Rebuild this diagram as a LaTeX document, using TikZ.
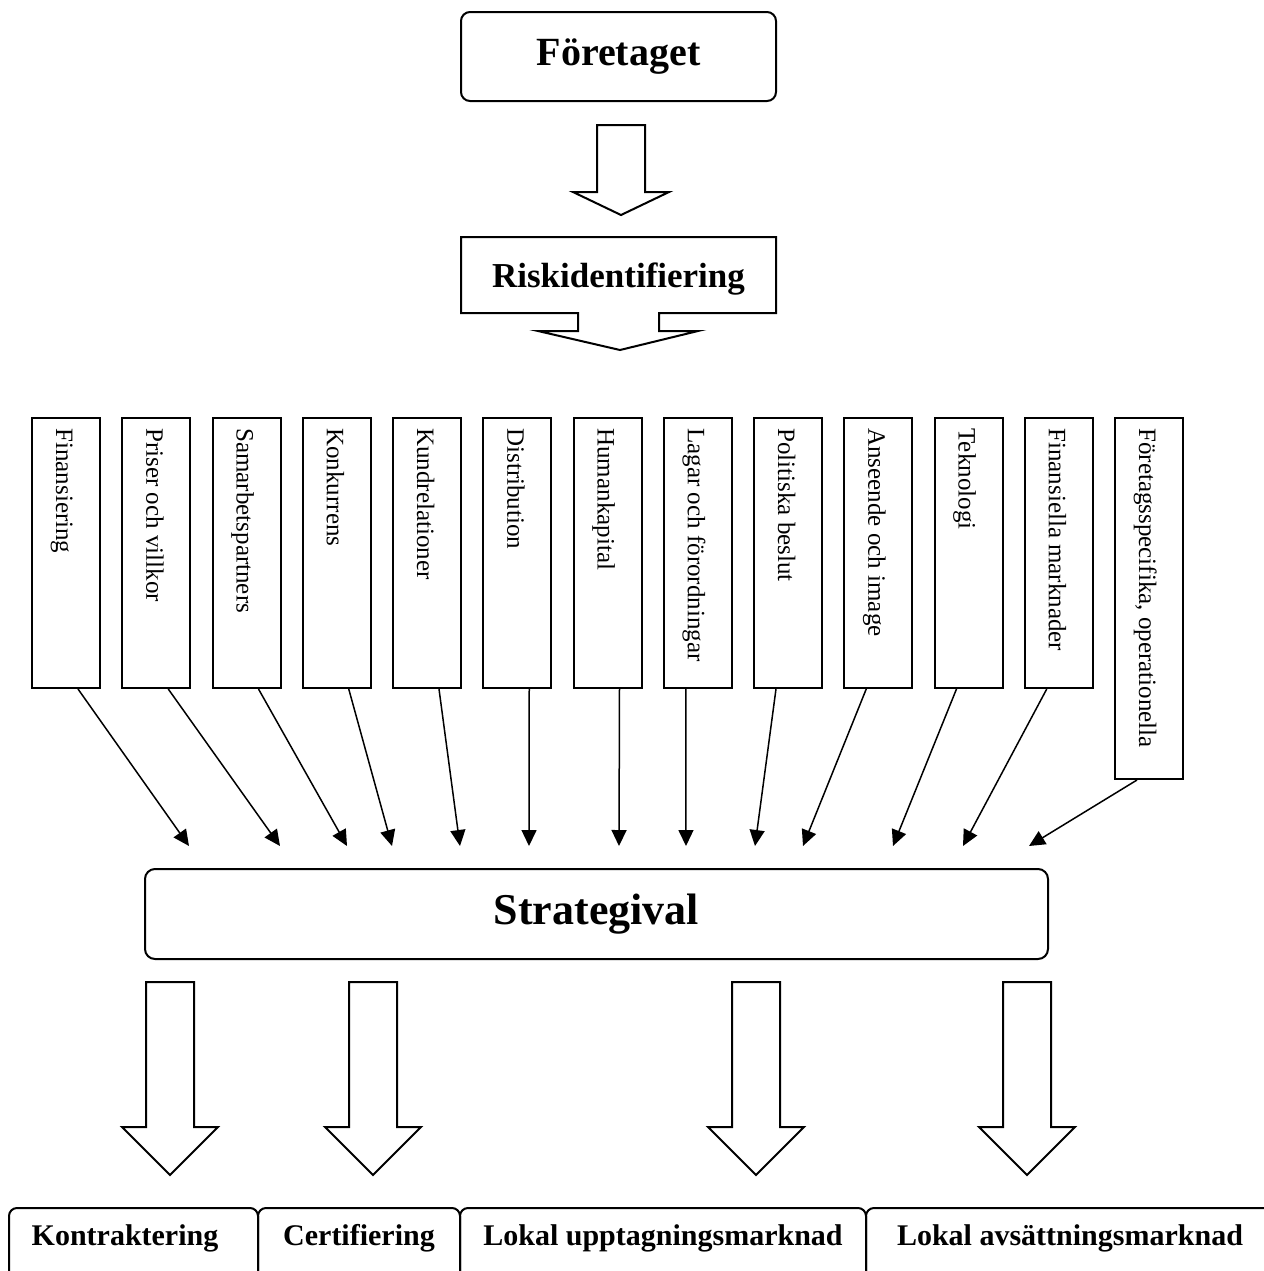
\documentclass[tikz,border=0pt]{standalone}
\usepackage{fontspec}
\setmainfont{Liberation Serif}
\usetikzlibrary{arrows.meta,calc}
\begin{document}
\begin{tikzpicture}[x=0.5pt,y=-0.5pt,
  box/.style={draw, line width=1pt, inner sep=0pt},
  vbox/.style={box, minimum width=34pt, minimum height=135pt},
  vtext/.style={rotate=-90, anchor=base west, inner sep=0pt, font=\fontsize{12.5}{14}\selectfont},
  conn/.style={line width=0.75pt, -{Triangle[length=8pt,width=7.5pt]}},
  hollow/.style={draw, line width=1pt, fill=white},
  btext/.style={anchor=base, inner sep=0pt, font=\bfseries\fontsize{15}{17}\selectfont}]
\useasboundingbox (0,0) rectangle (1264,1271);
\clip (0,0) rectangle (1264,1271);

% top box
\node[box, rounded corners=4.5pt, minimum width=157.5pt, minimum height=44.5pt,
      font=\bfseries\fontsize{20}{24}\selectfont] (foretaget) at (618.5,56.5) {Företaget};

% hollow arrow 1
\draw[hollow] (597,125) -- (645,125) -- (645,192) -- (669,192) -- (621,215)
  -- (573,192) -- (597,192) -- cycle;

% Riskidentifiering callout
\draw[hollow] (461,237) -- (776,237) -- (776,313) -- (659,313) -- (659,331)
  -- (698,331) -- (620,350) -- (538,331) -- (578,331) -- (578,313)
  -- (461,313) -- cycle;
\node[inner sep=0pt, font=\bfseries\fontsize{17.5}{21}\selectfont] (risk) at (618.5,279) {Riskidentifiering};

% vertical boxes
\foreach [count=\i] \t in {Finansiering, Priser och villkor, Samarbetspartners,
    Konkurrens, Kundrelationer, Distribution, Humankapital, Lagar och förordningar,
    Politiska beslut, Anseende och image, Teknologi, Finansiella marknader} {
  \node[vbox] (b\i) at ({66+90.25*(\i-1)},553) {};
  \node[vtext] (l\i) at ($(b\i.north)+(-10,11)$) {\t};
}
\node[box, minimum width=34pt, minimum height=180.5pt] (b13) at (1149,598.5) {};
\node[vtext] (l13) at ($(b13.north)+(-10,11)$) {Företagsspecifika, operationella};

% Strategival
\node[box, rounded corners=5pt, minimum width=451.5pt, minimum height=45pt,
      font=\bfseries\fontsize{22}{26}\selectfont] (strat) at (596.5,914) {Strategival};

% arrow ends
\foreach \i/\x in {1/189, 2/280, 3/347, 4/392, 5/460, 6/529, 7/619, 8/686,
    9/755, 10/803, 11/893, 12/963, 13/1029} {
  \coordinate (t\i) at (\x,846);
}
\foreach \i in {1,...,7} {
  \draw[conn] ($(b\i.south)+(12,0)$) -- (t\i);
}
\foreach \i in {8,...,13} {
  \draw[conn] ($(b\i.south)+(-12,0)$) -- (t\i);
}

% bottom hollow arrows
\foreach \c in {170, 373, 756, 1027} {
  \draw[hollow] (\c-24,982) -- (\c+24,982) -- (\c+24,1127) -- (\c+48,1127)
    -- (\c,1175) -- (\c-48,1127) -- (\c-24,1127) -- cycle;
}

% bottom boxes
\draw[line width=1pt, rounded corners=4pt] (9,1208) rectangle (258,1340);
\draw[line width=1pt, rounded corners=4pt] (258,1208) rectangle (460,1340);
\draw[line width=1pt, rounded corners=4pt] (460,1208) rectangle (866,1340);
\draw[line width=1pt, rounded corners=4pt] (866,1208) rectangle (1276,1340);
\node[btext] (k1) at (125,1245) {Kontraktering};
\node[btext] (k2) at (359,1245) {Certifiering};
\node[btext] (k3) at (663,1245) {Lokal upptagningsmarknad};
\node[btext] (k4) at (1070,1245) {Lokal avsättningsmarknad};
\end{tikzpicture}
\end{document}
